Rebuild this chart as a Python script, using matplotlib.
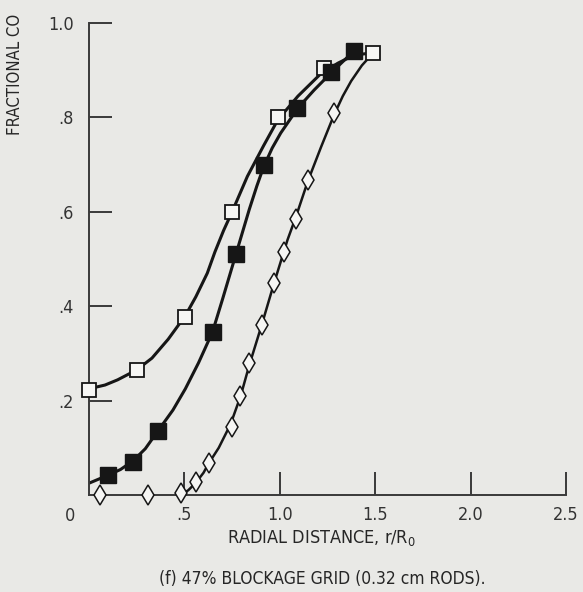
import matplotlib
matplotlib.use("Agg")
import matplotlib.pyplot as plt

plt.rcParams['font.family'] = ['DejaVu Sans']
plt.rcParams['font.stretch'] = 'condensed'

# measured points
open_x = [0.0, 0.25, 0.505, 0.75, 0.99, 1.23, 1.49]
open_y = [0.222, 0.265, 0.377, 0.60, 0.80, 0.905, 0.937]

filled_x = [0.10, 0.23, 0.36, 0.65, 0.77, 0.915, 1.09, 1.27, 1.39]
filled_y = [0.042, 0.07, 0.135, 0.345, 0.51, 0.70, 0.82, 0.897, 0.94]

diam_x = [0.06, 0.31, 0.48, 0.56, 0.63, 0.75, 0.79, 0.84, 0.905, 0.97,
          1.02, 1.085, 1.147, 1.285]
diam_y = [0.0, 0.0, 0.005, 0.028, 0.068, 0.145, 0.21, 0.28, 0.36, 0.449,
          0.515, 0.585, 0.667, 0.81]

# faired curves
open_cx = [0.0, 0.084, 0.15, 0.25, 0.33, 0.415, 0.505, 0.56, 0.62, 0.66,
           0.705, 0.75, 0.83, 0.915, 0.99, 1.095, 1.216, 1.305, 1.39, 1.49]
open_cy = [0.225, 0.233, 0.244, 0.265, 0.29, 0.33, 0.38, 0.42, 0.47, 0.515,
           0.56, 0.60, 0.675, 0.74, 0.795, 0.845, 0.893, 0.915, 0.932, 0.937]

filled_cx = [0.0, 0.1, 0.165, 0.23, 0.295, 0.36, 0.44, 0.505, 0.574, 0.647,
             0.70, 0.77, 0.84, 0.88, 0.915, 0.96, 1.005, 1.095, 1.18, 1.268, 1.384]
filled_cy = [0.025, 0.042, 0.054, 0.072, 0.098, 0.135, 0.18, 0.225, 0.28, 0.345,
             0.415, 0.51, 0.605, 0.655, 0.695, 0.735, 0.767, 0.82, 0.858, 0.894, 0.939]

diam_cx = [0.48, 0.52, 0.558, 0.6, 0.626, 0.68, 0.742, 0.795, 0.84, 0.905, 0.97,
           1.04, 1.085, 1.147, 1.216, 1.284, 1.33, 1.374, 1.43, 1.479]
diam_cy = [0.0, 0.01, 0.025, 0.047, 0.066, 0.10, 0.15, 0.21, 0.275, 0.36, 0.449,
           0.54, 0.59, 0.665, 0.737, 0.805, 0.845, 0.877, 0.91, 0.932]

xticks = [0.5, 1.0, 1.5, 2.0, 2.5]
xticklabels = ['.5', '1.0', '1.5', '2.0', '2.5']
yticks = [0.2, 0.4, 0.6, 0.8, 1.0]
yticklabels = ['.2', '.4', '.6', '.8', '1.0']

bg = '#e9e9e6'
ink = '#161616'
axc = '#3a3a3a'

fig = plt.figure(figsize=(5.83, 5.92), dpi=100, facecolor=bg)
ax = fig.add_axes([89 / 583, 1 - 495 / 592, 477 / 583, 472 / 592])
ax.set_facecolor(bg)

ax.plot(open_cx, open_cy, color=ink, lw=2.2, solid_joinstyle='round',
        solid_capstyle='round')
ax.plot(filled_cx, filled_cy, color=ink, lw=2.2, solid_joinstyle='round',
        solid_capstyle='round')
ax.plot(diam_cx, diam_cy, color=ink, lw=1.8, solid_joinstyle='round',
        solid_capstyle='round')

ax.plot(open_x, open_y, 's', ms=10.5, mfc='#f6f6f4', mec=ink, mew=1.3,
        clip_on=False, zorder=5)
ax.plot(filled_x, filled_y, 's', ms=11, mfc=ink, mec=ink, clip_on=False, zorder=5)
ax.plot(diam_x, diam_y, 'd', ms=10, mfc='#f6f6f4', mec=ink, mew=1.1,
        clip_on=False, zorder=5)

ax.set_xlim(0, 2.5)
ax.set_ylim(0, 1.0)
for s in ['top', 'right']:
    ax.spines[s].set_visible(False)
for s in ['left', 'bottom']:
    ax.spines[s].set_color(axc)
    ax.spines[s].set_linewidth(1.4)

ax.set_xticks(xticks)
ax.set_xticklabels(xticklabels)
ax.set_yticks(yticks)
ax.set_yticklabels(yticklabels)
ax.tick_params(direction='in', length=16.5, width=1.4, color=axc,
               labelsize=13, labelcolor='#333333')
ax.tick_params(axis='x', pad=8)
ax.tick_params(axis='y', pad=11)

ax.text(-0.04, -0.025, '0', transform=ax.transAxes, ha='center', va='top',
        fontsize=13, color='#333333')

fig.text(321 / 583, 1 - 538 / 592, 'RADIAL DISTANCE, r/R$_\\mathregular{0}$',
         ha='center', va='center', fontsize=13, color='#262626')
fig.text(322 / 583, 1 - 579 / 592, '(f) 47% BLOCKAGE GRID (0.32 cm RODS).',
         ha='center', va='center', fontsize=12.5, color='#262626')
fig.text(15 / 583, 1 - 135 / 592, 'FRACTIONAL CO', rotation=90,
         ha='center', va='bottom', fontsize=12, color='#262626')

fig.savefig('out.png', dpi=100, facecolor=bg)
